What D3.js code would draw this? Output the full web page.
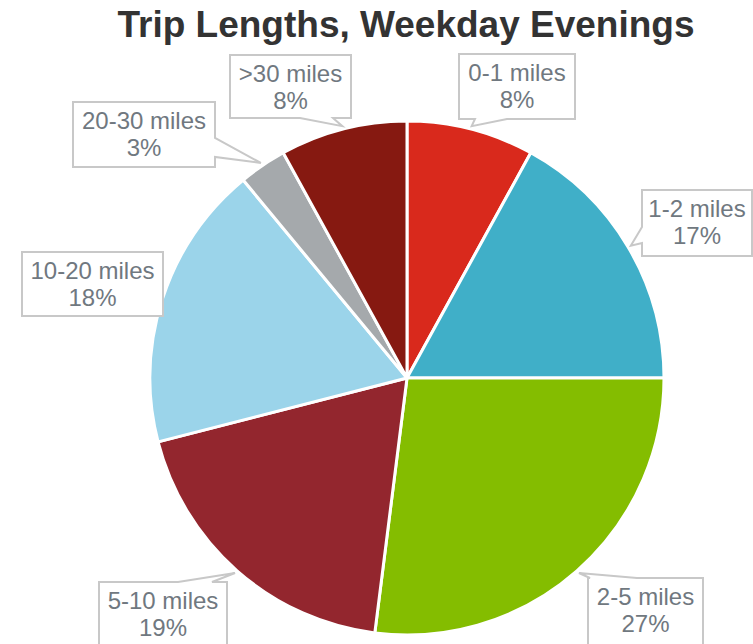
<!DOCTYPE html>
<html>
<head>
<meta charset="utf-8">
<script src="https://cdn.jsdelivr.net/npm/d3@7"></script>
<style>
  body { margin: 0; background: #fff; }
  svg { display: block; }
  text { font-family: Arial, "Liberation Sans", Helvetica, sans-serif; }
</style>
</head>
<body>
<script>
// data
var categories = ["0-1 miles", "1-2 miles", "2-5 miles", "5-10 miles", "10-20 miles", "20-30 miles", ">30 miles"];
var shares = [8, 17, 27, 19, 18, 3, 8];
var colors = ["#d9291c", "#40afc8", "#84bd00", "#93262e", "#9bd4ea", "#a5a9ac", "#861911"];

// callout boxes: [x0, y0, x1, y1, pointer side, base start, base end]
var boxes = [
    [459, 54, 575, 119, "bottom", 475, 507],
    [642, 190, 752, 256, "left", 227, 243],
    [588, 578, 703, 660, "top", 590, 637],
    [99, 582, 227, 660, "top", 178, 212],
    [22, 252, 163, 316, null, 0, 0],
    [73, 102, 215, 167, "right", 138, 157],
    [230, 55, 351, 118, "bottom", 300, 333]
];

var w = 753, h = 644;
var cx = 407, cy = 378, radius = 257;

var svg = d3.select("body")
    .append("svg")
    .attr("width", w)
    .attr("height", h);

svg.append("text")
    .attr("x", 406)
    .attr("y", 37)
    .attr("text-anchor", "middle")
    .style("font-weight", "bold")
    .style("font-size", "37px")
    .style("fill", "#333")
    .text("Trip Lengths, Weekday Evenings");

var pie = d3.pie().sort(null).value(function (d) { return d; });
var arcs = pie(shares);
var arc = d3.arc().innerRadius(0).outerRadius(radius);

var g = svg.append("g")
    .attr("transform", "translate(" + cx + "," + cy + ")");

g.selectAll("path")
    .data(arcs)
    .enter()
    .append("path")
    .attr("d", arc)
    .attr("fill", function (d, i) { return colors[i]; })
    .attr("stroke", "#fff")
    .attr("stroke-width", 3)
    .attr("stroke-linejoin", "round");

// pointer tip just outside the slice, at its middle angle
function tipOf(d) {
    var a = (d.startAngle + d.endAngle) / 2;
    return [cx + (radius + 3) * Math.sin(a), cy - (radius + 3) * Math.cos(a)];
}

function calloutPath(b, tip) {
    var x0 = b[0], y0 = b[1], x1 = b[2], y1 = b[3], side = b[4], s = b[5], e = b[6];
    var pts = [[x0, y0]];
    if (side == "top") { pts.push([s, y0], tip, [e, y0]); }
    pts.push([x1, y0]);
    if (side == "right") { pts.push([x1, s], tip, [x1, e]); }
    pts.push([x1, y1]);
    if (side == "bottom") { pts.push([e, y1], tip, [s, y1]); }
    pts.push([x0, y1]);
    if (side == "left") { pts.push([x0, e], tip, [x0, s]); }
    return "M" + pts.map(function (p) { return p[0] + "," + p[1]; }).join("L") + "Z";
}

var labels = svg.selectAll("g.callout")
    .data(arcs)
    .enter()
    .append("g")
    .attr("class", "callout");

labels.append("path")
    .attr("d", function (d, i) { return calloutPath(boxes[i], tipOf(d)); })
    .attr("fill", "#fff")
    .attr("stroke", "#c8c8c8")
    .attr("stroke-width", 2);

labels.append("text")
    .attr("x", function (d, i) { return (boxes[i][0] + boxes[i][2]) / 2; })
    .attr("y", function (d, i) { return boxes[i][1] + 27; })
    .attr("text-anchor", "middle")
    .style("font-size", "24px")
    .style("fill", "#707880")
    .text(function (d, i) { return categories[i]; });

labels.append("text")
    .attr("x", function (d, i) { return (boxes[i][0] + boxes[i][2]) / 2; })
    .attr("y", function (d, i) { return boxes[i][1] + 54; })
    .attr("text-anchor", "middle")
    .style("font-size", "24px")
    .style("fill", "#707880")
    .text(function (d) { return d.data + "%"; });
</script>
</body>
</html>
